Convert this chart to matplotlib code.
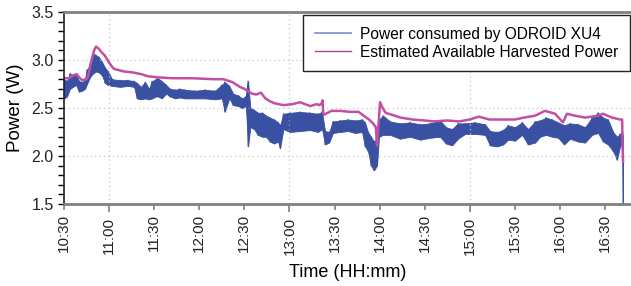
import numpy as np
import matplotlib
matplotlib.use("Agg")
import matplotlib.pyplot as plt
from matplotlib.ticker import MultipleLocator, FixedLocator, FixedFormatter

plt.rcParams['font.family'] = ['Liberation Sans', 'DejaVu Sans']

# time in minutes after 10:30
est_t = [0, 3, 6, 8.6, 10, 12, 15, 16, 18, 20, 21.3, 23, 25, 27, 29, 31, 33, 35, 40, 46,
         52, 56, 62, 72, 85, 100, 106, 112, 117, 120, 125, 128, 131, 134, 137, 140, 146,
         152, 157, 164, 168, 170, 171.5, 172, 172.5, 173, 178, 184, 190, 196, 200.3,
         203, 205.6, 207.5, 208.3, 210.3, 212, 214, 218, 224, 232, 240, 246, 255, 263,
         270, 276, 283, 292, 300, 306, 313.5, 320, 326.8, 332, 334.7, 340, 346.7, 355.4,
         358.7, 364.7, 370, 371.4, 371.7, 372]
est_p = [2.81, 2.81, 2.84, 2.85, 2.82, 2.79, 2.80, 2.83, 2.98, 3.10, 3.14, 3.12, 3.08, 3.05,
         3.00, 2.95, 2.91, 2.90, 2.88, 2.87, 2.85, 2.83, 2.82, 2.81, 2.81, 2.80, 2.80, 2.77,
         2.72, 2.70, 2.65, 2.64, 2.66, 2.60, 2.57, 2.55, 2.53, 2.54, 2.56, 2.52, 2.54, 2.53,
         2.55, 2.58, 2.45, 2.43, 2.47, 2.47, 2.46, 2.46, 2.41, 2.38, 2.34, 2.30, 2.11, 2.56,
         2.50, 2.45, 2.43, 2.40, 2.38, 2.37, 2.36, 2.37, 2.36, 2.38, 2.41, 2.38, 2.38, 2.38,
         2.40, 2.42, 2.47, 2.44, 2.35, 2.44, 2.42, 2.40, 2.42, 2.44, 2.40, 2.38, 2.38, 2.10,
         1.94]

odroid_t = [0, 2, 4, 6, 8, 10, 12, 14, 15.3, 17.3, 19.3, 21.3, 23.3, 25.3, 27.3, 29.3, 32,
            37.3, 42.6, 46.6, 48.6, 51.2, 54, 56.6, 58.6, 61.2, 62.6, 65, 68, 70.5, 74, 77,
            80.5, 87, 94, 100.5, 105, 107, 110, 112.5, 116, 118.5, 121, 122.5, 124, 126.5,
            129, 132, 134.5, 137, 139.8, 142.4, 143.8, 146, 150.4, 157, 163.7, 169, 171.7,
            173.7, 176.4, 179, 183.7, 189, 193.7, 198.3, 200.3, 202.3, 204.3, 206.3, 208.3,
            209.6, 212.3, 217, 223.6, 230.3, 237, 243.6, 250.2, 254.2, 258.2, 262.2, 266.9,
            273.5, 280.2, 283.5, 288.2, 292.2, 295.5, 300.1, 304.8, 308.8, 313.5, 316.8,
            320.8, 324.8, 328.8, 332.8, 336.7, 342.1, 346.7, 351.4, 355.4, 358.7, 362,
            365.4, 368, 370, 371.4, 372]
odroid_hi = [2.80, 2.78, 2.86, 2.84, 2.86, 2.78, 2.77, 2.79, 2.90, 2.95, 3.07, 3.05, 3.03,
             2.98, 2.92, 2.88, 2.80, 2.79, 2.79, 2.78, 2.76, 2.72, 2.77, 2.70, 2.78, 2.80,
             2.81, 2.78, 2.74, 2.70, 2.69, 2.70, 2.69, 2.68, 2.69, 2.68, 2.74, 2.77, 2.73,
             2.65, 2.63, 2.60, 2.62, 2.78, 2.50, 2.48, 2.45, 2.45, 2.42, 2.40, 2.38, 2.35,
             2.32, 2.44, 2.45, 2.46, 2.45, 2.44, 2.46, 2.26, 2.25, 2.36, 2.37, 2.38, 2.37,
             2.38, 2.35, 2.25, 2.20, 2.15, 2.20, 2.38, 2.42, 2.36, 2.34, 2.35, 2.33, 2.34,
             2.37, 2.30, 2.28, 2.34, 2.34, 2.35, 2.33, 2.26, 2.25, 2.27, 2.32, 2.30, 2.35,
             2.28, 2.36, 2.37, 2.40, 2.38, 2.35, 2.32, 2.34, 2.33, 2.30, 2.40, 2.45, 2.40,
             2.38, 2.25, 2.20, 2.23, 2.25, 2.20]
odroid_lo = [2.60, 2.62, 2.70, 2.72, 2.74, 2.67, 2.68, 2.70, 2.75, 2.82, 2.86, 2.88, 2.87,
             2.84, 2.76, 2.74, 2.73, 2.72, 2.73, 2.72, 2.60, 2.59, 2.60, 2.59, 2.60, 2.62,
             2.62, 2.60, 2.65, 2.62, 2.60, 2.61, 2.60, 2.60, 2.60, 2.59, 2.60, 2.46, 2.60,
             2.53, 2.52, 2.50, 2.52, 2.10, 2.30, 2.28, 2.22, 2.20, 2.20, 2.15, 2.13, 2.15,
             2.08, 2.28, 2.25, 2.26, 2.27, 2.25, 2.28, 2.12, 2.14, 2.24, 2.25, 2.26, 2.24,
             2.25, 2.10, 2.05, 1.90, 1.85, 1.90, 2.20, 2.22, 2.22, 2.18, 2.20, 2.17, 2.19,
             2.20, 2.13, 2.11, 2.18, 2.23, 2.23, 2.22, 2.11, 2.10, 2.12, 2.17, 2.16, 2.22,
             2.12, 2.14, 2.20, 2.22, 2.20, 2.19, 2.12, 2.18, 2.15, 2.14, 2.22, 2.24, 2.15,
             2.12, 2.05, 1.96, 2.10, 2.12, 1.50]

tick_pos = [0, 30, 60, 90, 120, 150, 180, 210, 240, 270, 300, 330, 360]
tick_lab = ['10:30', '11:00', '11:30', '12:00', '12:30', '13:00', '13:30',
            '14:00', '14:30', '15:00', '15:30', '16:00', '16:30']

blue = '#3a51a3'
pink = '#c24fa3'

fig = plt.figure(figsize=(6.31, 2.86), dpi=100)
ax = fig.add_axes([64 / 631, 1 - 204 / 286, 1 - 64 / 631, (204 - 12) / 286])

# dense noisy band of the measured power
ax.fill_between(odroid_t, odroid_lo, odroid_hi, color=blue, lw=0.6)
zz_t = np.repeat(odroid_t, 2)
zz_p = np.ravel(np.column_stack([odroid_hi, odroid_lo]))
ax.plot(zz_t, zz_p, color=blue, lw=0.8, label='Power consumed by ODROID XU4')
ax.plot(est_t, est_p, color=pink, lw=1.8, label='Estimated Available Harvested Power')

ax.set_xlim(0, 377.3)
ax.set_ylim(1.5, 3.5)

# labelled every 30 min, grid every 2 h
major = [p for p in tick_pos if p in (30, 150, 270)]
minor = [p for p in tick_pos if p not in major]
ax.xaxis.set_major_locator(FixedLocator(major))
ax.xaxis.set_major_formatter(FixedFormatter([tick_lab[tick_pos.index(p)] for p in major]))
ax.xaxis.set_minor_locator(FixedLocator(minor))
ax.xaxis.set_minor_formatter(FixedFormatter([tick_lab[tick_pos.index(p)] for p in minor]))
ax.tick_params(axis='x', which='both', rotation=90, labelsize=11, colors='#7f7f7f',
               labelcolor='#222222', direction='out')
ax.tick_params(axis='x', which='major', length=6, width=1.2)
ax.tick_params(axis='x', which='minor', length=4, width=1.2)

ax.yaxis.set_major_locator(MultipleLocator(0.5))
ax.yaxis.set_minor_locator(MultipleLocator(0.1))
ax.yaxis.set_major_formatter(plt.FormatStrFormatter('%.1f'))
ax.tick_params(axis='y', which='both', labelsize=11.5, labelcolor='#222222', width=1,
               length=4, direction='out')

ax.grid(True, which='major', linestyle=(0, (1, 2.5)), color='#c8c8c8', lw=0.9)

for s in ('top', 'bottom'):
    ax.spines[s].set_color('#808080')
    ax.spines[s].set_linewidth(2)
ax.spines['right'].set_visible(False)
ax.spines['left'].set_color('#222222')
ax.spines['left'].set_linewidth(1.2)

ax.set_ylabel('Power (W)', fontsize=13.5, labelpad=5)
ax.set_xlabel('Time (HH:mm)', fontsize=13, labelpad=6)

leg = ax.legend(loc='upper right', bbox_to_anchor=(0.998, 0.985), fontsize=11.2,
                frameon=True, fancybox=False, edgecolor='#222222', framealpha=1,
                handlelength=2.3, handletextpad=0.6, labelspacing=0.2,
                borderpad=0.75, borderaxespad=0)
leg.get_frame().set_linewidth(1.0)
leg.get_lines()[0].set_color('#8896cc')
leg.get_lines()[0].set_linewidth(1.3)
leg.get_lines()[1].set_color('#a8458f')
leg.get_lines()[1].set_linewidth(1.0)

fig.savefig('out.png', dpi=100)
